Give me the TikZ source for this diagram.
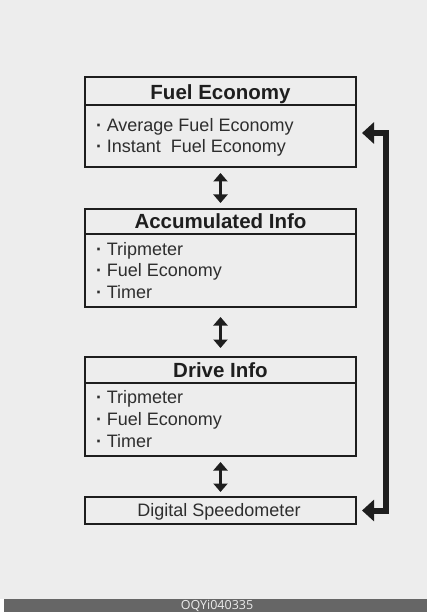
\documentclass[tikz,border=0pt]{standalone}
\usepackage{fontspec}
\setmainfont{Liberation Sans}
\newfontfamily\footfont{Open Sans}
\usetikzlibrary{arrows.meta,calc}
\definecolor{bg}{HTML}{EDEDED}
\definecolor{ink}{HTML}{1E1E1E}
\definecolor{txt}{HTML}{2E2E2E}
\definecolor{barc}{HTML}{666666}
\newcommand{\bul}{{\bfseries ·}\hspace{4.6pt}}
\begin{document}
\begin{tikzpicture}[x=1pt,y=-1pt,
 box/.style={draw=ink,line width=1.7pt,fill=bg,inner sep=0,outer sep=0,minimum width=271pt},
 sepline/.style={draw=ink,line width=1.7pt},
 title/.style={font=\fontsize{20.5}{20.5}\selectfont\bfseries,text=ink,anchor=base,inner sep=0},
 item/.style={font=\fontsize{18}{18}\selectfont,text=txt,anchor=base west,inner sep=0},
 dbl/.style={draw=ink,line width=3.5pt,{Triangle[width=14pt,length=8.5pt]}-{Triangle[width=14pt,length=8.5pt]}},
 loopar/.style={draw=ink,line width=6pt,{Triangle[width=21pt,length=12pt]}-{Triangle[width=21pt,length=12pt]}}]
\useasboundingbox (0,0) rectangle (429,612);
\fill[white] (0,0) rectangle (429,612);
\fill[bg] (0,0) rectangle (427,599);
\fill[barc] (4,599) rectangle (427,612);
\node[font=\footfont\fontsize{12.5}{12.5}\selectfont,text=white!92!black,inner sep=0] (code) at (217,605.5) {OQYi040335};

% boxes
\node[box,minimum height=90pt] (fe) at (220.5,122) {};
\node[box,minimum height=98pt] (acc) at (220.5,258) {};
\node[box,minimum height=99pt] (drv) at (220.5,406.5) {};
\node[box,minimum height=27pt] (ds) at (220.5,510.5) {};

\draw[sepline] ($(fe.north west)+(0,28)$) -- ($(fe.north east)+(0,28)$);
\draw[sepline] ($(acc.north west)+(0,25)$) -- ($(acc.north east)+(0,25)$);
\draw[sepline] ($(drv.north west)+(0,26)$) -- ($(drv.north east)+(0,26)$);

% titles
\node[title] (fet) at (220.5,100) {Fuel Economy};
\node[title] (acct) at (220.5,228) {Accumulated Info};
\node[title] (drvt) at (220.5,377) {Drive Info};
\node[item,anchor=base] (dst) at (219,516) {Digital Speedometer};

% items
\node[item] (fe1) at (96,132) {\bul Average Fuel Economy};
\node[item] (fe2) at (96,153) {\bul Instant\ \ Fuel Economy};
\node[item] (acc1) at (96,255) {\bul Tripmeter};
\node[item] (acc2) at (96,276) {\bul Fuel Economy};
\node[item] (acc3) at (96,298) {\bul Timer};
\node[item] (drv1) at (96,403) {\bul Tripmeter};
\node[item] (drv2) at (96,425) {\bul Fuel Economy};
\node[item] (drv3) at (96,447) {\bul Timer};

% connectors
\draw[dbl,shorten <=6pt,shorten >=6pt] (fe.south) -- (acc.north);
\draw[dbl,shorten <=10pt,shorten >=9pt] (acc.south) -- (drv.north);
\draw[dbl,shorten <=6pt,shorten >=5pt] (drv.south) -- (ds.north);
\draw[loopar,shorten <=6pt,shorten >=6pt] (ds.east) -- ++(30,0) |- ($(fe.east)+(0,11)$);
\end{tikzpicture}
\end{document}
